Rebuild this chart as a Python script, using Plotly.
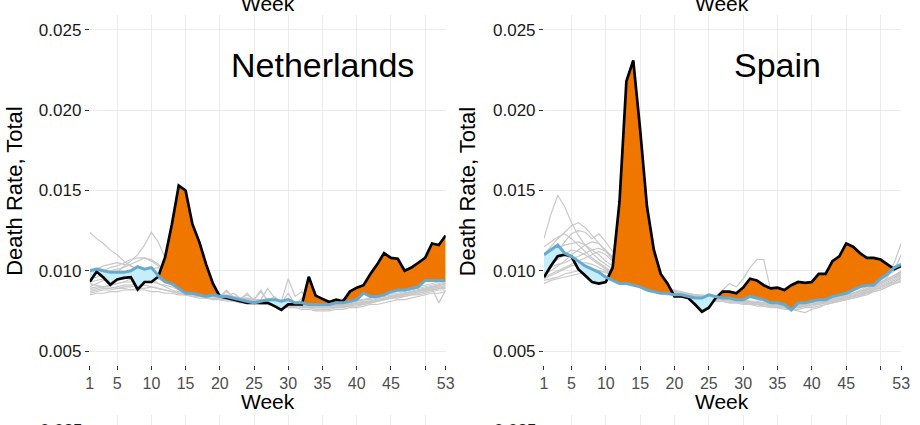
import plotly.graph_objects as go

weeks = list(range(1, 54))
tick_weeks = [1, 5, 10, 15, 20, 25, 30, 35, 40, 45, 50, 53]
tick_week_labels = ["1", "5", "10", "15", "20", "25", "30", "35", "40", "45", "", "53"]
y_ticks = [0.005, 0.010, 0.015, 0.020, 0.025]
y_tick_labels = ["0.005", "0.010", "0.015", "0.020", "0.025"]
SCALE = 1e-4  # values below are death rate x 10^4

# ---------------- Netherlands ----------------
nl_2020 = [93.2, 99.4, 95.8, 91.3, 94.6, 95.6, 96, 88.4, 93, 93,
           96.3, 108.3, 129, 153, 150, 129, 118, 104, 92, 84,
           83, 82, 81, 80, 80, 80, 80, 78, 75.6, 79,
           79, 79, 96.3, 84.5, 82.5, 80.5, 82, 81, 87, 89.5,
           91, 98, 104, 111, 108, 107.5, 100, 102, 105, 108,
           117, 116, 122]
nl_base = [100, 101, 100, 99, 99, 99, 100, 102.5, 101, 102,
           97, 93, 92, 89, 86, 86, 85, 84, 85, 84,
           84, 83, 82, 81, 80, 81, 82, 82, 81, 82,
           80, 80, 79, 79, 79, 79, 80, 80, 81, 82,
           86, 84, 84, 85, 87, 88, 88, 89, 90, 94,
           94, 94, 94]
nl_past = [
    [124,120,117,113,110,106,103,100,98,95,92,90,88,87,86,85,84,84,83,83,82,82,81,81,80,80,81,80,80,79,79,79,78,78,78,79,79,80,80,81,82,82,83,84,85,85,86,87,88,89,90,91,92],
    [90,92,94,96,99,103,106,110,116,124,118,108,98,92,89,87,86,85,84,84,83,83,82,82,81,81,80,80,80,79,79,79,78,78,79,79,80,80,81,82,82,83,84,85,86,87,88,89,90,91,92,93,93],
    [95,96,98,100,101,102,104,106,108,107,104,100,96,93,90,88,87,86,85,84,84,83,83,82,82,81,81,82,81,80,80,79,79,78,78,78,79,79,80,81,82,83,84,85,86,86,87,88,89,90,91,92,93],
    [88,89,90,91,92,93,93,94,95,96,97,95,93,91,89,88,87,86,86,85,84,86,83,85,82,87,81,84,80,86,79,83,78,78,77,77,78,78,79,80,80,81,82,83,84,85,86,87,88,89,90,91,92],
    [92,91,90,90,89,89,88,88,88,87,87,86,86,85,85,84,84,83,83,82,82,81,81,80,80,80,79,79,79,78,78,78,77,77,77,77,78,78,78,79,79,80,81,82,83,84,84,85,86,87,88,89,90],
    [86,87,88,88,89,90,90,91,91,90,89,88,87,86,85,85,84,84,85,84,87,83,82,86,81,82,89,83,81,95,84,87,80,79,79,78,78,79,79,80,80,81,82,82,83,84,85,86,86,87,88,89,89],
    [100,101,103,104,105,104,103,101,99,97,95,93,91,89,88,87,86,85,84,84,83,82,82,81,81,80,80,79,79,78,78,77,77,76,76,76,77,77,78,78,79,80,81,82,83,84,85,86,87,88,89,90,91],
    [89,90,90,91,92,93,95,97,99,101,102,100,97,94,91,89,88,87,86,85,85,84,83,83,82,82,81,81,80,80,79,79,78,78,78,77,78,78,79,80,81,81,82,83,84,85,86,87,88,88,89,90,90],
    [93,94,95,97,98,99,100,100,99,97,95,93,91,90,88,87,86,85,84,83,83,82,82,81,81,80,80,80,79,79,79,78,78,77,77,77,77,78,78,79,80,80,81,82,83,83,84,85,85,86,87,88,88],
    [87,88,89,89,90,91,91,92,93,93,92,91,90,88,87,86,85,85,84,84,88,83,83,82,82,88,81,81,81,80,80,79,79,78,78,78,78,79,79,80,80,81,82,83,83,84,85,86,87,88,89,80,88],
    [98,99,100,102,103,105,107,108,108,106,103,100,97,94,92,90,88,87,86,85,84,84,83,83,82,82,81,81,80,80,80,79,79,78,78,78,78,79,79,80,81,81,82,83,84,85,86,87,88,89,90,91,92],
    [85,86,86,87,87,88,88,89,89,90,89,88,87,86,85,84,83,83,82,82,81,81,80,80,80,79,79,78,78,77,77,76,76,75,75,75,76,76,77,77,78,79,79,80,81,82,82,83,84,85,86,86,87],
]

# ---------------- Spain ----------------
es_2020 = [96, 103, 109, 110, 109, 101, 97, 93, 92, 93,
           102, 143, 218, 231, 188, 140, 113, 98, 92, 84,
           84, 83, 79, 74.5, 77, 83, 87, 87, 86, 89.5,
           95, 94, 91, 89, 89.5, 88, 91, 93, 92.5, 93,
           98, 98, 106, 109, 117, 115, 111, 108, 108, 107,
           104, 101, 103]
es_base = [110, 113, 116, 111, 109, 106, 103, 101, 99, 96,
           94, 92, 92, 91, 90, 88, 87, 86, 86, 85,
           85, 84, 83, 83, 85, 84, 83, 83, 82, 82,
           84, 83, 82, 80, 80, 79, 75.6, 80, 80, 81,
           82, 82, 84, 85, 86, 88, 90, 91, 91, 95,
           98, 102, 104]
es_past = [
    [120,135,147,140,130,122,116,111,107,104,101,99,97,95,93,91,90,89,88,87,86,85,84,84,83,83,82,82,81,81,80,80,79,79,78,78,77,78,78,79,80,81,82,83,84,85,86,88,90,92,94,96,98],
    [110,115,120,124,128,130,127,122,117,112,107,103,99,96,94,92,90,89,88,87,86,85,85,84,84,83,83,84,85,86,84,82,81,80,79,79,78,78,79,79,80,81,82,83,84,86,87,89,91,93,95,97,99],
    [105,108,112,118,123,125,124,120,123,118,112,106,101,97,94,92,91,89,88,87,86,86,85,84,84,83,83,82,82,81,81,80,80,79,79,78,78,79,79,80,81,82,83,84,85,86,87,88,90,92,94,96,99],
    [98,100,103,106,110,113,116,118,117,113,108,103,99,96,93,91,89,88,87,86,85,84,84,83,83,82,82,82,81,81,80,80,79,79,78,78,77,77,78,79,79,80,81,82,83,84,86,87,88,90,92,93,95],
    [95,97,99,101,103,104,105,104,102,100,98,96,94,92,90,89,88,87,86,85,84,84,83,82,82,82,88,92,90,95,102,107,107,88,81,79,78,78,78,79,80,81,81,82,83,84,85,86,88,89,91,93,96],
    [92,94,95,96,97,98,99,100,100,99,98,96,94,92,91,89,88,87,86,85,84,84,83,82,82,81,81,80,80,79,79,78,78,77,77,76,76,76,77,77,78,79,80,81,82,83,84,86,88,90,92,94,97],
    [115,118,121,123,120,116,112,108,105,102,99,97,95,93,91,90,89,88,87,86,85,84,84,83,83,82,82,81,81,80,80,80,79,79,78,78,78,77,78,79,80,80,81,82,83,84,85,87,89,92,96,105,117],
    [100,102,104,105,107,109,111,113,114,112,109,105,101,98,95,93,91,90,89,88,87,86,85,85,84,84,83,83,82,82,81,81,80,80,79,79,79,80,80,81,81,82,83,84,85,86,87,89,91,93,95,97,100],
    [96,98,100,102,104,106,108,110,112,110,106,102,98,95,92,90,89,88,87,86,85,85,84,83,83,82,82,81,81,80,80,79,79,78,78,77,76,75,74,76,77,79,80,81,82,83,84,85,87,88,90,92,94],
    [108,111,114,116,117,118,116,113,110,106,103,100,97,95,93,91,90,89,88,87,86,85,84,84,83,83,82,82,81,81,81,80,80,79,79,78,78,78,79,79,80,81,82,83,84,85,86,88,89,91,93,95,98],
    [94,95,96,98,99,100,101,101,100,99,97,95,93,91,90,88,87,86,85,85,84,83,83,82,82,81,81,80,80,80,79,79,78,78,77,77,77,77,78,78,79,80,81,82,83,84,85,86,87,88,90,92,93],
    [102,104,107,110,113,112,110,107,104,101,98,96,94,92,90,89,88,87,86,85,85,84,84,83,83,82,82,82,81,81,80,80,80,79,79,78,78,79,79,80,81,82,83,84,85,86,88,90,92,94,97,100,110],
]

countries = [("Netherlands", nl_2020, nl_base, nl_past),
             ("Spain", es_2020, es_base, es_past)]

ORANGE = "#EF7700"
LIGHTBLUE = "#C6EEFA"
BLUE = "#67A9CF"
GRAY = "#C8C8C8"
GRID = "#EBEBEB"
FONT = "Liberation Sans, Arial, sans-serif"

W, H = 920, 425


def crossings(x, a, b):
    xs, ya, yb = [], [], []
    for i in range(len(x)):
        if i > 0:
            d0 = a[i - 1] - b[i - 1]
            d1 = a[i] - b[i]
            if d0 * d1 < 0:
                t = d0 / (d0 - d1)
                xc = x[i - 1] + t * (x[i] - x[i - 1])
                yc = b[i - 1] + t * (b[i] - b[i - 1])
                xs.append(xc); ya.append(yc); yb.append(yc)
        xs.append(x[i]); ya.append(a[i]); yb.append(b[i])
    return xs, ya, yb


fig = go.Figure()

for k, (name, obs, base, past) in enumerate(countries):
    xa = "x" if k == 0 else "x2"
    ya_ = "y" if k == 0 else "y2"
    obs_v = [v * SCALE for v in obs]
    base_v = [v * SCALE for v in base]
    for p in past:
        fig.add_trace(go.Scatter(x=weeks, y=[v * SCALE for v in p], mode="lines",
                                 line=dict(color=GRAY, width=1.2), xaxis=xa, yaxis=ya_,
                                 hoverinfo="skip"))
    xs, yo, yb = crossings(weeks, obs_v, base_v)
    upper = [max(o, b) for o, b in zip(yo, yb)]
    lower = [min(o, b) for o, b in zip(yo, yb)]
    fig.add_trace(go.Scatter(x=xs + xs[::-1], y=upper + yb[::-1], mode="none",
                             fill="toself", fillcolor=ORANGE, xaxis=xa, yaxis=ya_,
                             hoverinfo="skip"))
    fig.add_trace(go.Scatter(x=xs + xs[::-1], y=yb + lower[::-1], mode="none",
                             fill="toself", fillcolor=LIGHTBLUE, xaxis=xa, yaxis=ya_,
                             hoverinfo="skip"))
    fig.add_trace(go.Scatter(x=weeks, y=obs_v, mode="lines",
                             line=dict(color="black", width=2.7), xaxis=xa, yaxis=ya_))
    fig.add_trace(go.Scatter(x=weeks, y=base_v, mode="lines",
                             line=dict(color=BLUE, width=3), xaxis=xa, yaxis=ya_))

# empty traces so the partial panels of the next row are drawn
fig.add_trace(go.Scatter(x=[], y=[], xaxis="x3", yaxis="y3"))
fig.add_trace(go.Scatter(x=[], y=[], xaxis="x4", yaxis="y4"))

xdom1 = [87 / W, 448 / W]
xdom2 = [547.7 / W, 910 / W]
ydom = [(H - 365) / H, (H - 15) / H]

xcommon = dict(range=[1, 53], tickmode="array", tickvals=tick_weeks, ticktext=tick_week_labels,
               ticks="outside", ticklen=4, tickcolor="#333333", tickwidth=1,
               tickfont=dict(family=FONT, size=16, color="#4D4D4D"),
               showgrid=True, gridcolor=GRID, gridwidth=1.1, zeroline=False, showline=False)
ycommon = dict(range=[0.00413, 0.02593], tickmode="array", tickvals=y_ticks, ticktext=y_tick_labels,
               ticks="outside", ticklen=4, tickcolor="#333333", tickwidth=1,
               tickfont=dict(family=FONT, size=17, color="#1A1A1A"),
               showgrid=True, gridcolor=GRID, gridwidth=1.1, zeroline=False, showline=False)
ghostx = dict(range=[1, 53], tickmode="array", tickvals=tick_weeks, showticklabels=False,
              ticks="", showgrid=True, gridcolor=GRID, gridwidth=1.1, zeroline=False, showline=False)
ghosty = dict(range=[0, 1], domain=[0, 10 / H], showticklabels=False, ticks="",
              showgrid=False, zeroline=False, showline=False)

annotations = []
for k, (name, *_rest) in enumerate(countries):
    annotations.append(dict(text=name, x=35, y=0.0228, xref="x" if k == 0 else "x2",
                            yref="y" if k == 0 else "y2", showarrow=False,
                            xanchor="center", yanchor="middle",
                            font=dict(family=FONT, size=34, color="black")))
for cx, ylab_x, ghost_x in [(268, 10, 82), (728.5, 470, 543)]:
    # top partial axis titles from the row above
    annotations.append(dict(text="Week", x=cx / W, y=(H - 3) / H, xref="paper", yref="paper",
                            showarrow=False, xanchor="center", yanchor="middle",
                            font=dict(family=FONT, size=21, color="black")))
    # bottom axis titles
    annotations.append(dict(text="Week", x=cx / W, y=(H - 401) / H, xref="paper", yref="paper",
                            showarrow=False, xanchor="center", yanchor="middle",
                            font=dict(family=FONT, size=21, color="black")))
    annotations.append(dict(text="Death Rate, Total", x=ylab_x / W, y=(H - 191) / H,
                            xref="paper", yref="paper", showarrow=False, textangle=-90,
                            xanchor="center", yanchor="middle",
                            font=dict(family=FONT, size=22, color="black")))
    annotations.append(dict(text="0.025", x=ghost_x / W, y=(H - 430) / H, xref="paper",
                            yref="paper", showarrow=False, xanchor="right", yanchor="middle",
                            font=dict(family=FONT, size=17, color="#1A1A1A")))

fig.update_layout(
    width=W, height=H, margin=dict(l=0, r=0, t=0, b=0),
    plot_bgcolor="white", paper_bgcolor="white", showlegend=False,
    font=dict(family=FONT),
    xaxis=dict(domain=xdom1, anchor="y", **xcommon),
    yaxis=dict(domain=ydom, anchor="x", **ycommon),
    xaxis2=dict(domain=xdom2, anchor="y2", **xcommon),
    yaxis2=dict(domain=ydom, anchor="x2", **ycommon),
    xaxis3=dict(domain=xdom1, anchor="y3", **ghostx),
    yaxis3=dict(anchor="x3", **ghosty),
    xaxis4=dict(domain=xdom2, anchor="y4", **ghostx),
    yaxis4=dict(anchor="x4", **ghosty),
    annotations=annotations,
)

fig.write_html("out.html", config={"displayModeBar": False},
               post_script="document.body.style.margin='0';document.body.style.padding='0';"
                           "document.body.style.overflow='hidden';")
